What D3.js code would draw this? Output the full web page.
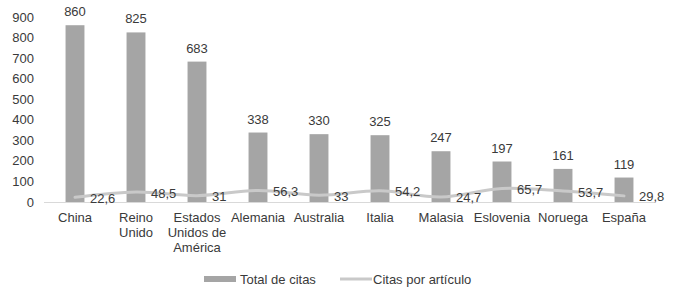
<!DOCTYPE html>
<html>
<head>
<meta charset="utf-8">
<script src="https://cdn.jsdelivr.net/npm/d3@7"></script>
<style>
  body { margin: 0; background: #fff; }
  text { font-family: "Liberation Sans", Arial, sans-serif; fill: #3a3a3a; font-size: 13px; }
</style>
</head>
<body>
<svg id="chart" width="673" height="300"></svg>
<script>
// chart data
var countries = [["China"], ["Reino", "Unido"], ["Estados", "Unidos de", "América"], ["Alemania"], ["Australia"],
                 ["Italia"], ["Malasia"], ["Eslovenia"], ["Noruega"], ["España"]];
var totalCitas = [860, 825, 683, 338, 330, 325, 247, 197, 161, 119];
var citasPorArticulo = [22.6, 48.5, 31, 56.3, 33, 54.2, 24.7, 65.7, 53.7, 29.8];
var yTicks = [0, 100, 200, 300, 400, 500, 600, 700, 800, 900];
var seriesNames = ["Total de citas", "Citas por artículo"];

var svg = d3.select("#chart");
var fmt = function(v){ return String(v).replace(".", ","); };

var x = d3.scaleBand()
	.domain(d3.range(countries.length))
	.range([44.5, 654.5])
	.paddingInner(0.69)
	.paddingOuter(0.345);

var y = d3.scaleLinear()
	.domain([0, 900])
	.range([202, 17]);

// y axis labels
svg.append("g")
	.selectAll("text")
	.data(yTicks)
	.enter()
	.append("text")
	.attr("x", 34)
	.attr("y", function(d){ return y(d); })
	.attr("dy", "0.35em")
	.attr("text-anchor", "end")
	.text(function(d){ return d; });

// bars
svg.append("g")
	.selectAll("rect")
	.data(totalCitas)
	.enter()
	.append("rect")
	.attr("x", function(d, i){ return x(i); })
	.attr("y", function(d){ return y(d); })
	.attr("width", x.bandwidth())
	.attr("height", function(d){ return y(0) - y(d); })
	.style("fill", "#a5a5a5");

// bar labels
svg.append("g")
	.selectAll("text")
	.data(totalCitas)
	.enter()
	.append("text")
	.attr("x", function(d, i){ return x(i) + x.bandwidth() / 2; })
	.attr("y", function(d){ return y(d) - 9; })
	.attr("text-anchor", "middle")
	.text(function(d){ return d; });

// base line
svg.append("line")
	.attr("x1", 44).attr("x2", 655)
	.attr("y1", y(0) + 0.5).attr("y2", y(0) + 0.5)
	.style("stroke", "#d9d9d9")
	.style("stroke-width", 1);

// smoothed line
var line = d3.line()
	.x(function(d, i){ return x(i) + x.bandwidth() / 2; })
	.y(function(d){ return y(d); })
	.curve(d3.curveCatmullRom.alpha(0.5));

svg.append("path")
	.datum(citasPorArticulo)
	.attr("d", line)
	.style("fill", "none")
	.style("stroke", "#c9c9c9")
	.style("stroke-width", 3)
	.style("stroke-linecap", "round");

// line labels
svg.append("g")
	.selectAll("text")
	.data(citasPorArticulo)
	.enter()
	.append("text")
	.attr("x", function(d, i){ return x(i) + x.bandwidth() / 2 + 15; })
	.attr("y", function(d){ return y(d) + 1; })
	.attr("dy", "0.35em")
	.text(function(d){ return fmt(d); });

// category labels
var cat = svg.append("g")
	.selectAll("text")
	.data(countries)
	.enter()
	.append("text")
	.attr("x", function(d, i){ return x(i) + x.bandwidth() / 2; })
	.attr("y", 222)
	.attr("text-anchor", "middle");
cat.selectAll("tspan")
	.data(function(d){ return d; })
	.enter()
	.append("tspan")
	.attr("x", function(){ return this.parentNode.getAttribute("x"); })
	.attr("dy", function(d, i){ return i === 0 ? 0 : 15; })
	.text(function(d){ return d; });

// legend
var legend = svg.append("g");
legend.append("rect")
	.attr("x", 204).attr("y", 276)
	.attr("width", 32).attr("height", 6)
	.style("fill", "#a5a5a5");
legend.append("text")
	.attr("x", 240).attr("y", 279)
	.attr("dy", "0.35em")
	.text(seriesNames[0]);
legend.append("line")
	.attr("x1", 340).attr("x2", 372)
	.attr("y1", 279).attr("y2", 279)
	.style("stroke", "#c9c9c9")
	.style("stroke-width", 3);
legend.append("text")
	.attr("x", 373).attr("y", 279)
	.attr("dy", "0.35em")
	.text(seriesNames[1]);
</script>
</body>
</html>
